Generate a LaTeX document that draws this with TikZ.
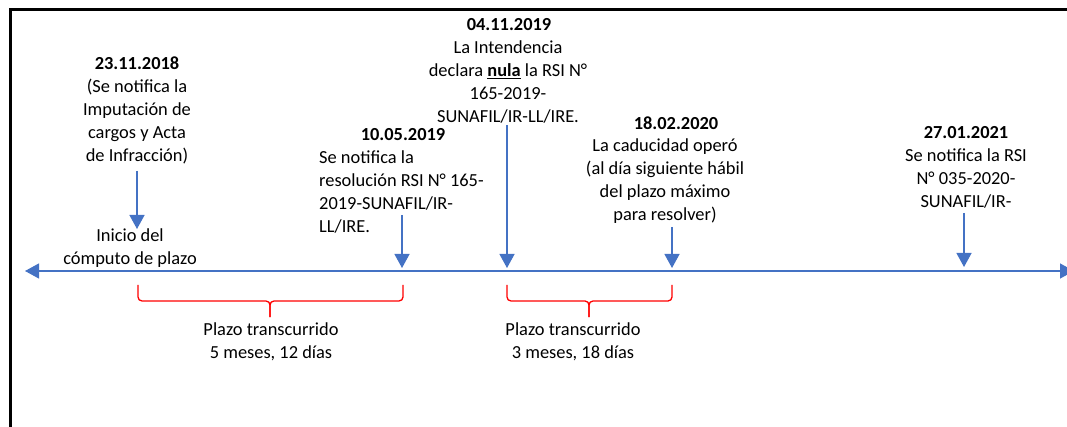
\documentclass[tikz,border=0pt]{standalone}
\usepackage{fontspec}
\setmainfont{Carlito}
\usepackage{xcolor}
\usetikzlibrary{arrows.meta}
\definecolor{lineblue}{RGB}{68,114,196}

\tikzset{
  txt/.style={inner sep=0pt, font=\fontsize{18.4}{23}\selectfont, align=center},
  pin/.style={lineblue, line width=1.3pt, -{Triangle[length=14pt,width=15pt]}},
  span/.style={red, line width=1.3pt, rounded corners=4pt}
}

\begin{document}
\begin{tikzpicture}[x=1pt,y=-1pt]
\useasboundingbox (0,0) rectangle (1067,427);
% frame
\draw [line width=3pt] (10,427) -- (10,10) -- (1067,10);

% timeline
\coordinate (left) at (25,271);
\coordinate (right) at (1074,271);
\draw [lineblue, line width=1.2pt] [{Triangle[length=14pt,width=15pt]}-{Triangle[length=14pt,width=15pt]}] (left) -- (right);

% 23.11.2018
\node [txt, anchor=north] (d1) at (137,57) {\textbf{23.11.2018}\\(Se notifica la\\Imputación de\\cargos y Acta\\de Infracción)};
\node [txt, anchor=north] (start) at (130,229) {Inicio del\\cómputo de plazo};
\coordinate (a1) at (137,171);
\draw [pin] (a1) -- (a1 |- start.north);

% 10.05.2019
\node [txt] (d2) at (403,135) {\textbf{10.05.2019}};
\node [txt, align=left, anchor=north west] (b2) at (319,151) {Se notifica la\\resolución RSI N° 165-\\2019-SUNAFIL/IR-\\LL/IRE.};
\coordinate (a2) at (402,215);
\coordinate (t2) at (402,268);
\draw [pin] (a2) -- (t2);

% 04.11.2019
\node [txt] (d3) at (509,25) {\textbf{04.11.2019}};
\node [txt, anchor=north] (b3) at (508,41) {La Intendencia\\declara \underline{\textbf{nula}} la RSI N°\\165-2019-\\SUNAFIL/IR-LL/IRE.};
\coordinate (a3) at (507,125);
\coordinate (t3) at (507,268);
\draw [pin] (a3) -- (t3);

% 18.02.2020
\node [txt] (d4) at (676,123) {\textbf{18.02.2020}};
\node [txt, anchor=north] (b4) at (665,139) {La caducidad operó\\(al día siguiente hábil\\del plazo máximo\\para resolver)};
\coordinate (a4) at (672,227);
\coordinate (t4) at (672,268);
\draw [pin] (a4) -- (t4);

% 27.01.2021
\node [txt] (d5) at (966,133) {\textbf{27.01.2021}};
\node [txt, anchor=north] (b5) at (966,149) {Se notifica la RSI\\N° 035-2020-\\SUNAFIL/IR-};
\coordinate (a5) at (964,213);
\coordinate (t5) at (964,267);
\draw [pin] (a5) -- (t5);

% plazos
\node [txt, anchor=north] (p1) at (271,323) {Plazo transcurrido\\5 meses, 12 días};
\node [txt, anchor=north] (p2) at (573,323) {Plazo transcurrido\\3 meses, 18 días};

\draw [span] (138,285) -- (138,301) -- (270,301) -- (270,317);
\draw [span] (403,285) -- (403,301) -- (270,301) -- (270,317);
\draw [span] (507,285) -- (507,301) -- (589,301) -- (589,317);
\draw [span] (672,285) -- (672,301) -- (589,301) -- (589,317);
\end{tikzpicture}
\end{document}
